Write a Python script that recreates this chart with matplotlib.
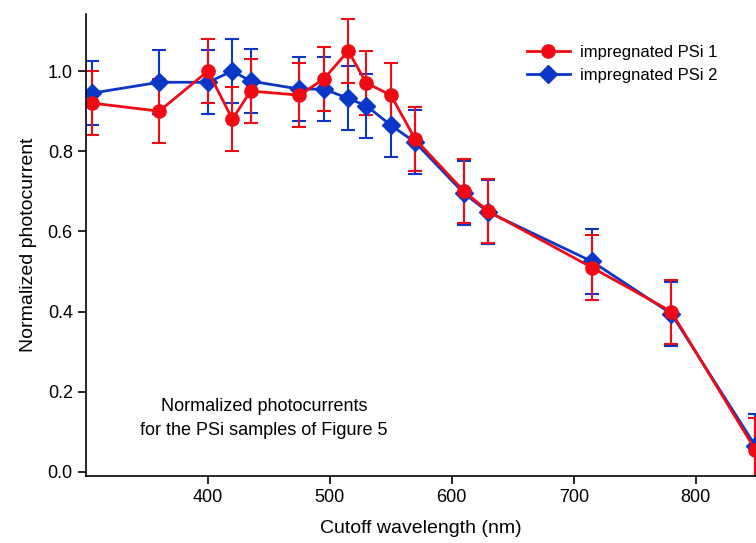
import matplotlib
matplotlib.use("Agg")
import matplotlib.pyplot as plt
from matplotlib.lines import Line2D

# datos
wavelength = [305, 360, 400, 420, 435, 475, 495, 515, 530, 550, 570, 610, 630, 715, 780, 849]
psi1 = [0.92, 0.90, 1.00, 0.88, 0.95, 0.94, 0.98, 1.05, 0.97, 0.94, 0.83, 0.70, 0.65, 0.51, 0.40, 0.055]
psi1_err = [0.08] * 16
psi2 = [0.945, 0.972, 0.972, 1.00, 0.975, 0.955, 0.955, 0.932, 0.913, 0.865, 0.822, 0.695, 0.648, 0.525, 0.395, 0.065]
psi2_err = [0.08] * 16

plt.rcParams['font.family'] = ['Liberation Sans', 'DejaVu Sans']

rojo = '#f00a14'
azul = '#0a37c8'

fig = plt.figure(figsize=(7.56, 5.43), dpi=100)
ax = fig.add_axes([0.1138, 0.1234, 0.8862, 0.8506])

ax.errorbar(wavelength, psi2, yerr=psi2_err, color=azul, marker='D', markersize=9.5,
            linewidth=2, elinewidth=1.5, capsize=5, capthick=1.5)
ax.errorbar(wavelength, psi1, yerr=psi1_err, color=rojo, marker='o', markersize=9.5,
            linewidth=2, elinewidth=1.5, capsize=5, capthick=1.5)

ax.set_xlim(300, 849.5)
ax.set_ylim(-0.01, 1.142)
ax.set_xticks([400, 500, 600, 700, 800])
ax.set_yticks([0.0, 0.2, 0.4, 0.6, 0.8, 1.0])
ax.yaxis.set_major_formatter(matplotlib.ticker.FormatStrFormatter('%.1f'))
ax.tick_params(direction='out', length=6, width=1.2, labelsize=13)

ax.spines['top'].set_visible(False)
ax.spines['right'].set_visible(False)
ax.spines['left'].set_linewidth(1.2)
ax.spines['bottom'].set_linewidth(1.2)

ax.set_xlabel('Cutoff wavelength (nm)', fontsize=14, labelpad=10)
ax.set_ylabel('Normalized photocurrent', fontsize=14, labelpad=8)

ax.text(446, 0.133, 'Normalized photocurrents\nfor the PSi samples of Figure 5',
        ha='center', va='center', fontsize=13, linespacing=1.5)

handles = [
    Line2D([], [], color=rojo, marker='o', markersize=9.5, linewidth=2),
    Line2D([], [], color=azul, marker='D', markersize=9.5, linewidth=2),
]
ax.legend(handles, ['impregnated PSi 1', 'impregnated PSi 2'], loc='upper right',
          bbox_to_anchor=(0.965, 0.965), frameon=False, fontsize=12,
          handlelength=2.6, handletextpad=0.6, labelspacing=0.45)

fig.savefig('out.png', dpi=100)
